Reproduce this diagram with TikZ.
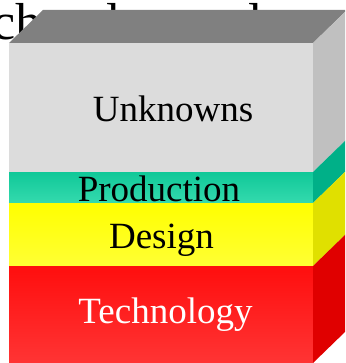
\documentclass[tikz,border=0pt]{standalone}
\usepackage{fontspec}
\setmainfont{Liberation Serif}
\definecolor{grayfront}{HTML}{DCDCDC}
\definecolor{grayside}{HTML}{C0C0C0}
\definecolor{graytop}{HTML}{808080}
\definecolor{tealtop}{HTML}{10C898}
\definecolor{tealbot}{HTML}{34DAAE}
\definecolor{tealside}{HTML}{00B088}
\definecolor{yeltop}{HTML}{FFFF00}
\definecolor{yelbot}{HTML}{FFFF34}
\definecolor{yelside}{HTML}{E0E000}
\definecolor{redtop}{HTML}{FF0E0E}
\definecolor{redbot}{HTML}{FF3434}
\definecolor{redside}{HTML}{E00000}
\tikzset{
  lbl/.style={anchor=base, inner sep=0pt, font=\fontsize{37}{40}\selectfont},
  frag/.style={inner sep=0pt, font=\fontsize{52}{56}\selectfont}
}
\begin{document}
\begin{tikzpicture}[x=1pt,y=-1pt]
\useasboundingbox (0,0) rectangle (345,363);
\clip (0,0) rectangle (345,363);
% title fragments behind the box
\node[frag, anchor=base east] (t1) at (42,40) {ch};
\node[frag, anchor=base] (t2) at (114,40) {l};
\node[frag, anchor=base] (t3) at (256,40) {l};
% top face
\fill[graytop] (9,43) -- (313,43) -- (347,10) -- (43,10) -- cycle;
% front faces
\fill[grayfront] (9,43) rectangle (313,172);
\fill[top color=tealtop, bottom color=tealbot] (9,172) rectangle (313,203);
\fill[top color=yeltop, bottom color=yelbot] (9,203) rectangle (313,266);
\fill[top color=redtop, bottom color=redbot] (9,266) rectangle (313,363);
% side faces
\fill[grayside] (313,43) -- (347,10) -- (347,139) -- (313,172) -- cycle;
\fill[tealside] (313,172) -- (347,139) -- (347,170) -- (313,203) -- cycle;
\fill[yelside] (313,203) -- (347,170) -- (347,233) -- (313,266) -- cycle;
\fill[redside] (313,266) -- (347,233) -- (347,330) -- (313,363) -- cycle;
% labels
\node[lbl] (unk) at (173,122) {Unknowns};
\node[lbl] (prod) at (159,201) {Production};
\node[lbl] (des) at (161.5,248) {Design};
\node[lbl, text=white] (tech) at (165.5,323) {Technology};
\end{tikzpicture}
\end{document}
